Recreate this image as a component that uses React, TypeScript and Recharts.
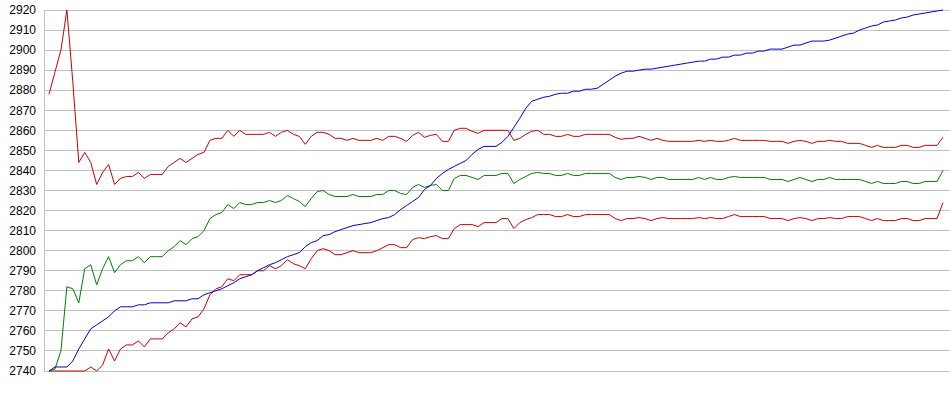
import { LineChart, Line, XAxis, YAxis, CartesianGrid } from "recharts";

// upper red series
const upper = [
  2878, 2889, 2900, 2920, 2884, 2844, 2849, 2844, 2833, 2839,
  2843, 2833, 2836, 2837, 2837, 2839, 2836, 2838, 2838, 2838,
  2842, 2844, 2846, 2844, 2846, 2848, 2849, 2855, 2856, 2856,
  2860, 2857, 2860, 2858, 2858, 2858, 2858, 2859, 2857, 2859,
  2860, 2858, 2857, 2853, 2857, 2859, 2859, 2858, 2856, 2856,
  2855, 2856, 2855, 2855, 2855, 2856, 2855, 2857, 2857, 2856,
  2854.5, 2857.5, 2859, 2856.5, 2857.5, 2858, 2854.5, 2854.5, 2860, 2861,
  2861, 2859.5, 2858.5, 2860, 2860, 2860, 2860, 2860, 2855, 2856,
  2858, 2859.5, 2860, 2858, 2858, 2857, 2857, 2858, 2857, 2857,
  2858, 2858, 2858, 2858, 2858, 2856.5, 2855.5, 2856, 2856, 2857,
  2856, 2855, 2856, 2855, 2854.5, 2854.5, 2854.5, 2854.5, 2854.5, 2855,
  2854.5, 2855, 2854.5, 2854.5, 2855, 2856, 2855, 2855, 2855, 2855,
  2855, 2854.5, 2854.5, 2854.5, 2853.5, 2854.5, 2855, 2854.5, 2853.5, 2854.5,
  2854.5, 2855, 2854.5, 2854.5, 2853.5, 2853.5, 2853.5, 2852.5, 2851.5, 2852.5,
  2851.5, 2851.5, 2851.5, 2852.5, 2852.5, 2851.5, 2851.5, 2852.5, 2852.5, 2852.5,
  2856.5,
];

const middle = [
  2740, 2741, 2750, 2782, 2781, 2774, 2791, 2793, 2783, 2791,
  2797, 2789, 2793, 2795, 2795, 2797, 2794, 2797, 2797, 2797,
  2800, 2802, 2805, 2803, 2806, 2807, 2810, 2816, 2818, 2819,
  2823, 2821, 2824, 2823, 2823, 2824, 2824, 2825, 2824, 2825,
  2827.5, 2826, 2824.5, 2822, 2826, 2829.5, 2830, 2828, 2827, 2827,
  2827, 2828, 2827, 2827, 2827, 2828, 2828, 2830, 2830, 2828.5,
  2828, 2831.5, 2833, 2831.5, 2832.5, 2833, 2830, 2830, 2836, 2837.5,
  2837.5, 2836.5, 2835.5, 2837.5, 2837.5, 2837.5, 2838.5, 2838.5, 2833.5, 2835.5,
  2837, 2838.5, 2839, 2838.5, 2838.5, 2837.5, 2837.5, 2838.5, 2837.5, 2837.5,
  2838.5, 2838.5, 2838.5, 2838.5, 2838.5, 2836.5, 2835.5, 2836.5, 2836.5, 2837,
  2836.5, 2835.5, 2836.5, 2836.5, 2835.5, 2835.5, 2835.5, 2835.5, 2835.5, 2836.5,
  2835.5, 2836.5, 2835.5, 2835.5, 2836.5, 2837, 2836.5, 2836.5, 2836.5, 2836.5,
  2836.5, 2835.5, 2835.5, 2835.5, 2834.5, 2835.5, 2836.5, 2835.5, 2834.5, 2835.5,
  2835.5, 2836.5, 2835.5, 2835.5, 2835.5, 2835.5, 2835.5, 2834.5, 2833.5, 2834.5,
  2833.5, 2833.5, 2833.5, 2834.5, 2834.5, 2833.5, 2833.5, 2834.5, 2834.5, 2834.5,
  2840,
];

const rising = [
  2740, 2742, 2742, 2742, 2745, 2751, 2756, 2761, 2763, 2765,
  2767, 2770, 2772, 2772, 2772, 2773, 2773, 2774, 2774, 2774,
  2774, 2775, 2775, 2775, 2776, 2776, 2778, 2779, 2780, 2781,
  2782.5, 2784, 2786, 2787, 2788, 2790, 2791.5, 2793, 2794, 2795.5,
  2797, 2798, 2799, 2802, 2804, 2805, 2807.5, 2808, 2809.5, 2810.5,
  2811.5, 2812.5, 2813, 2813.5, 2814, 2815, 2816, 2816.5, 2818, 2820.5,
  2822.5, 2824.5, 2826.5, 2830.5, 2832.5, 2836, 2838.5, 2840.5, 2842, 2843.5,
  2845, 2848, 2850.5, 2852, 2852, 2852, 2854, 2857, 2861.5, 2866,
  2871, 2874.5, 2875.5, 2876.5, 2877, 2878, 2878.5, 2878.5, 2879.5, 2879.5,
  2880.5, 2880.5, 2881, 2883, 2885, 2887, 2888.5, 2889.5, 2889.5, 2890,
  2890.5, 2890.5, 2891, 2891.5, 2892, 2892.5, 2893, 2893.5, 2894, 2894.5,
  2894.5, 2895.5, 2895.5, 2896.5, 2896.5, 2897.5, 2897.5, 2898.5, 2898.5, 2899.5,
  2899.5, 2900.5, 2900.5, 2900.5, 2901.5, 2902.5, 2902.5, 2903.5, 2904.5, 2904.5,
  2904.5, 2905, 2906, 2907, 2908, 2908.5, 2910, 2911, 2912, 2912.5,
  2914, 2914.5, 2915, 2916, 2916.5, 2917.5, 2918, 2918.5, 2919, 2919.5,
  2920,
];

// lower red series
const lower = [
  2740, 2740, 2740, 2740, 2740, 2740, 2740, 2742, 2740, 2743,
  2751, 2745, 2751, 2753, 2753, 2755, 2752, 2756, 2756, 2756,
  2759, 2761, 2764, 2762, 2766, 2767, 2771, 2778, 2781, 2782,
  2786, 2785, 2788, 2788, 2788, 2790, 2790, 2792.5, 2791, 2792.5,
  2795.5, 2793.5, 2792.5, 2791, 2796, 2800, 2801, 2800, 2798, 2798,
  2799, 2800, 2799, 2799, 2799, 2800, 2801.5, 2803, 2803, 2801.5,
  2801.5, 2805.5, 2806.5, 2806, 2807, 2807.5, 2806, 2806, 2811, 2813,
  2813, 2813, 2812, 2814, 2814, 2814, 2816, 2816, 2811, 2814,
  2815.5, 2816.5, 2818, 2818, 2818, 2817, 2817, 2818, 2817, 2817,
  2818, 2818, 2818, 2818, 2818, 2816, 2815, 2816, 2816, 2816.5,
  2816, 2815, 2816, 2816.5, 2816, 2816, 2816, 2816, 2816, 2816.5,
  2816, 2816.5, 2816, 2816, 2817, 2818, 2817, 2817, 2817, 2817,
  2817, 2816, 2816, 2816, 2815, 2816, 2816.5, 2816, 2815, 2816,
  2816, 2816.5, 2816, 2816, 2817, 2817, 2817, 2816, 2815, 2816,
  2815, 2815, 2815, 2816, 2816, 2815, 2815, 2816, 2816, 2816,
  2824,
];

const yTicks = [
  2740, 2750, 2760, 2770, 2780, 2790, 2800, 2810, 2820, 2830,
  2840, 2850, 2860, 2870, 2880, 2890, 2900, 2910, 2920,
];

const data = upper.map((u, i) => ({
  n: i + 1,
  upper: u,
  middle: middle[i],
  rising: rising[i],
  lower: lower[i],
}));

export default function App() {
  return (
    <div style={{ position: "absolute", left: 0, top: 0, width: 950, height: 395, background: "#fff" }}>
      <LineChart width={950} height={395} data={data} margin={{ top: 10, right: 0, bottom: 24, left: 0 }}>
        <CartesianGrid vertical={false} stroke="#c0c0c0" shapeRendering="crispEdges" />
        <XAxis dataKey="n" hide padding={{ left: 5, right: 7 }} />
        <YAxis
          type="number"
          domain={[2740, 2920]}
          ticks={yTicks}
          interval={0}
          width={44}
          tickLine={false}
          axisLine={{ stroke: "#c0c0c0", shapeRendering: "crispEdges" }}
          tick={{ fill: "#000", fontSize: 12, fontFamily: "Arial, 'Liberation Sans', sans-serif" }}
        />
        <Line dataKey="upper" stroke="#cc0000" strokeWidth={1} dot={false} type="linear" isAnimationActive={false} />
        <Line dataKey="middle" stroke="#008000" strokeWidth={1} dot={false} type="linear" isAnimationActive={false} />
        <Line dataKey="lower" stroke="#cc0000" strokeWidth={1} dot={false} type="linear" isAnimationActive={false} />
        <Line dataKey="rising" stroke="#0000cc" strokeWidth={1} dot={false} type="linear" isAnimationActive={false} />
      </LineChart>
    </div>
  );
}
